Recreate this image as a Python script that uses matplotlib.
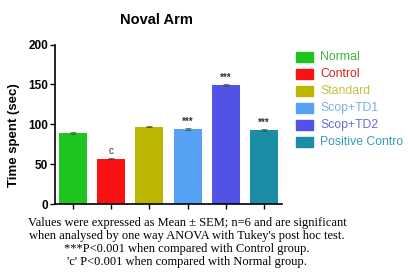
import matplotlib
matplotlib.use("Agg")
import matplotlib.pyplot as plt
from matplotlib.patches import Rectangle

groups = ["Normal", "Control", "Standard", "Scop+TD1", "Scop+TD2", "Positive Contro"]
values = [89, 57, 97, 94, 149, 93]
errors = [1.0, 1.0, 1.0, 1.0, 1.0, 1.0]
annotations = ["", "c", "", "***", "***", "***"]
colors = ["#1ec51e", "#fa1212", "#bdb600", "#55a2f5", "#5252e6", "#1b8ea6"]
text_colors = ["#3cb43c", "#d42020", "#c8c040", "#7ab0e0", "#6a6ad8", "#3a9ab8"]
yticks = [0, 50, 100, 150, 200]
footer = ["Values were expressed as Mean \u00b1 SEM; n=6 and are significant",
          "when analysed by one way ANOVA with Tukey's post hoc test.",
          "***P<0.001 when compared with Control group.",
          "'c' P<0.001 when compared with Normal group."]

plt.rcParams['font.family'] = ['Liberation Sans', 'DejaVu Sans']
fig = plt.figure(figsize=(4.08, 2.75), dpi=100)
ax = fig.add_axes([0.135, 0.258, 0.556, 0.580])
x = list(range(len(groups)))
ax.bar(x, values, width=0.73, color=colors, yerr=errors, capsize=2,
       error_kw=dict(ecolor="#444444", elinewidth=0.5, capthick=0.5))
for xi, v, e, a in zip(x, values, errors, annotations):
    if a:
        ax.text(xi, v + e + 2, a, ha='center', va='bottom', fontsize=7,
                color='#333333', fontweight='bold' if a != 'c' else 'normal')
ax.set_xlim(-0.47, len(groups) - 0.53)
ax.set_ylim(0, 200)
ax.set_yticks(yticks)
ax.set_yticklabels([str(t) for t in yticks], fontsize=8.5, fontweight='bold')
ax.set_xticks(x)
ax.set_xticklabels([])
ax.tick_params(axis='both', length=3.5, width=1.0, pad=1.5)
for s in ['top', 'right']:
    ax.spines[s].set_visible(False)
for s in ['left', 'bottom']:
    ax.spines[s].set_linewidth(1.2)
ax.set_ylabel("Time spent (sec)", fontsize=9.5, fontweight='bold')
ax.yaxis.set_label_coords(-35 / 227, (204 - 135) / 159)
fig.text(156 / 408, 1 - 20 / 275, "Noval Arm", fontsize=10.5, fontweight='bold',
         ha='center', va='center')

# legend
y0 = 1 - 57 / 275
dy = 17 / 275
for i, (g, c, tc) in enumerate(zip(groups, colors, text_colors)):
    yy = y0 - i * dy
    fig.patches.append(Rectangle((296 / 408, yy - 0.018), 17 / 408, 0.036,
                                 transform=fig.transFigure, color=c))
    fig.text(320 / 408, yy, g, color=tc, fontsize=8.8, va='center', ha='left')

for i, line in enumerate(footer):
    fig.text(187 / 408, 1 - (223 + i * 13) / 275, line, ha='center', va='center',
             fontsize=9, family=['Liberation Serif', 'DejaVu Serif'])

fig.savefig("out.png", dpi=100, facecolor='white')
